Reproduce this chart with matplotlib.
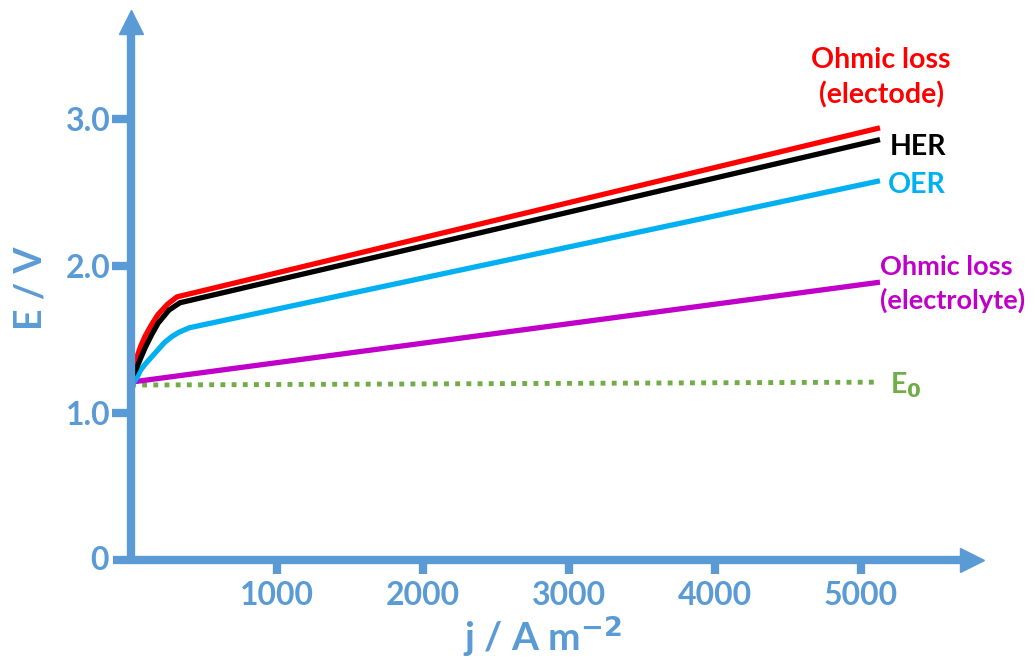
import matplotlib
matplotlib.use("Agg")
from matplotlib import pyplot as plt

# current density (A m-2) and potential (V)
j_red = [0, 20, 40, 65, 95, 140, 185, 250, 315, 5130]
e_red = [1.30, 1.34, 1.38, 1.45, 1.52, 1.60, 1.67, 1.74, 1.79, 2.94]

j_her = [0, 20, 40, 65, 95, 140, 185, 260, 335, 5130]
e_her = [1.24, 1.27, 1.31, 1.37, 1.44, 1.53, 1.61, 1.70, 1.75, 2.86]

j_oer = [0, 20, 40, 65, 95, 140, 185, 230, 280, 330, 400, 5130]
e_oer = [1.19, 1.21, 1.24, 1.29, 1.33, 1.38, 1.43, 1.48, 1.52, 1.55, 1.58, 2.58]

j_ely = [0, 5130]
e_ely = [1.21, 1.89]

j_e0 = [0, 5130]
e_e0 = [1.19, 1.21]

x_ticks = [1000, 2000, 3000, 4000, 5000]
y_ticks = [1.0, 2.0, 3.0]
y_labels = ["1.0", "2.0", "3.0"]

AXC = "#5B9BD5"
FONT = "Lato"

fig = plt.figure(figsize=(10.35, 6.6), dpi=100)
ax = fig.add_axes([0, 0, 1, 1])
# pixel mapping: x_px = 131 + 0.146 * j ; y_px(from top) = 560 - 147 * E
ax.set_xlim(-131 / 0.146, (1035 - 131) / 0.146)
ax.set_ylim(-100 / 147, 560 / 147)

for s in ["top", "right"]:
    ax.spines[s].set_visible(False)
ax.spines["left"].set_position(("data", 0))
ax.spines["bottom"].set_position(("data", 0))
ax.spines["left"].set_bounds(0, 3.66)
ax.spines["bottom"].set_bounds(-120, 5700)
for s in ["left", "bottom"]:
    ax.spines[s].set_color(AXC)
    ax.spines[s].set_linewidth(6)
    ax.spines[s].set_capstyle("butt")

ax.set_xticks(x_ticks)
ax.set_xticklabels([str(t) for t in x_ticks])
ax.set_yticks(y_ticks)
ax.set_yticklabels(y_labels)
ax.tick_params(axis="x", direction="out", length=10, width=6, color=AXC,
               labelcolor=AXC, pad=5, labelsize=23)
ax.tick_params(axis="y", direction="out", length=14, width=6, color=AXC,
               labelcolor=AXC, pad=1, labelsize=23)
for lab in ax.get_xticklabels() + ax.get_yticklabels():
    lab.set_fontfamily(FONT)
    lab.set_fontweight("bold")
ax.text(-150, 0, "0", ha="right", va="center", color=AXC, fontsize=23,
        fontweight="bold", family=FONT)

# arrow heads
ax.plot(5760, 0, marker=">", markersize=17, color=AXC, clip_on=False)
ax.plot(0, 3.66, marker="^", markersize=17, color=AXC, clip_on=False)

# curves
ax.plot(j_e0, e_e0, color="#70AD47", lw=3.5, linestyle=(0, (1, 1.3)))
ax.plot(j_ely, e_ely, color="#C000C8", lw=3.8, solid_capstyle="butt")
ax.plot(j_oer, e_oer, color="#00B0F0", lw=3.8, solid_capstyle="butt",
        solid_joinstyle="round")
ax.plot(j_red, e_red, color="#FF0000", lw=3.8, solid_capstyle="butt",
        solid_joinstyle="round")
ax.plot(j_her, e_her, color="#000000", lw=3.8, solid_capstyle="butt",
        solid_joinstyle="round")

# labels
lk = dict(fontsize=20.5, fontweight="bold", family=FONT)
ax.text(5137, 3.28, "Ohmic loss\n(electode)", color="#FF0000", ha="center",
        va="center", linespacing=1.4, **lk)
ax.text(5200, 2.81, "HER", color="#000000", ha="left", va="center", **lk)
ax.text(5185, 2.55, "OER", color="#00B0F0", ha="left", va="center", **lk)
ax.text(5130, 1.88, "Ohmic loss\n(electrolyte)", color="#C000C8", ha="left",
        va="center", linespacing=1.4, fontsize=19.5, fontweight="bold",
        family=FONT)
ax.text(5200, 1.19, "E$_\\mathbf{0}$", color="#70AD47", ha="left", va="center", **lk)

ax.text(-690, 1.85, "E / V", color=AXC, rotation=90, ha="center", va="center",
        fontsize=27, fontweight="bold", family=FONT)
ax.text(2815, -0.52, "j / A m$^{\\mathbf{-2}}$", color=AXC, ha="center",
        va="center", fontsize=28, fontweight="bold", family=FONT)

fig.savefig("out.png", dpi=100)
